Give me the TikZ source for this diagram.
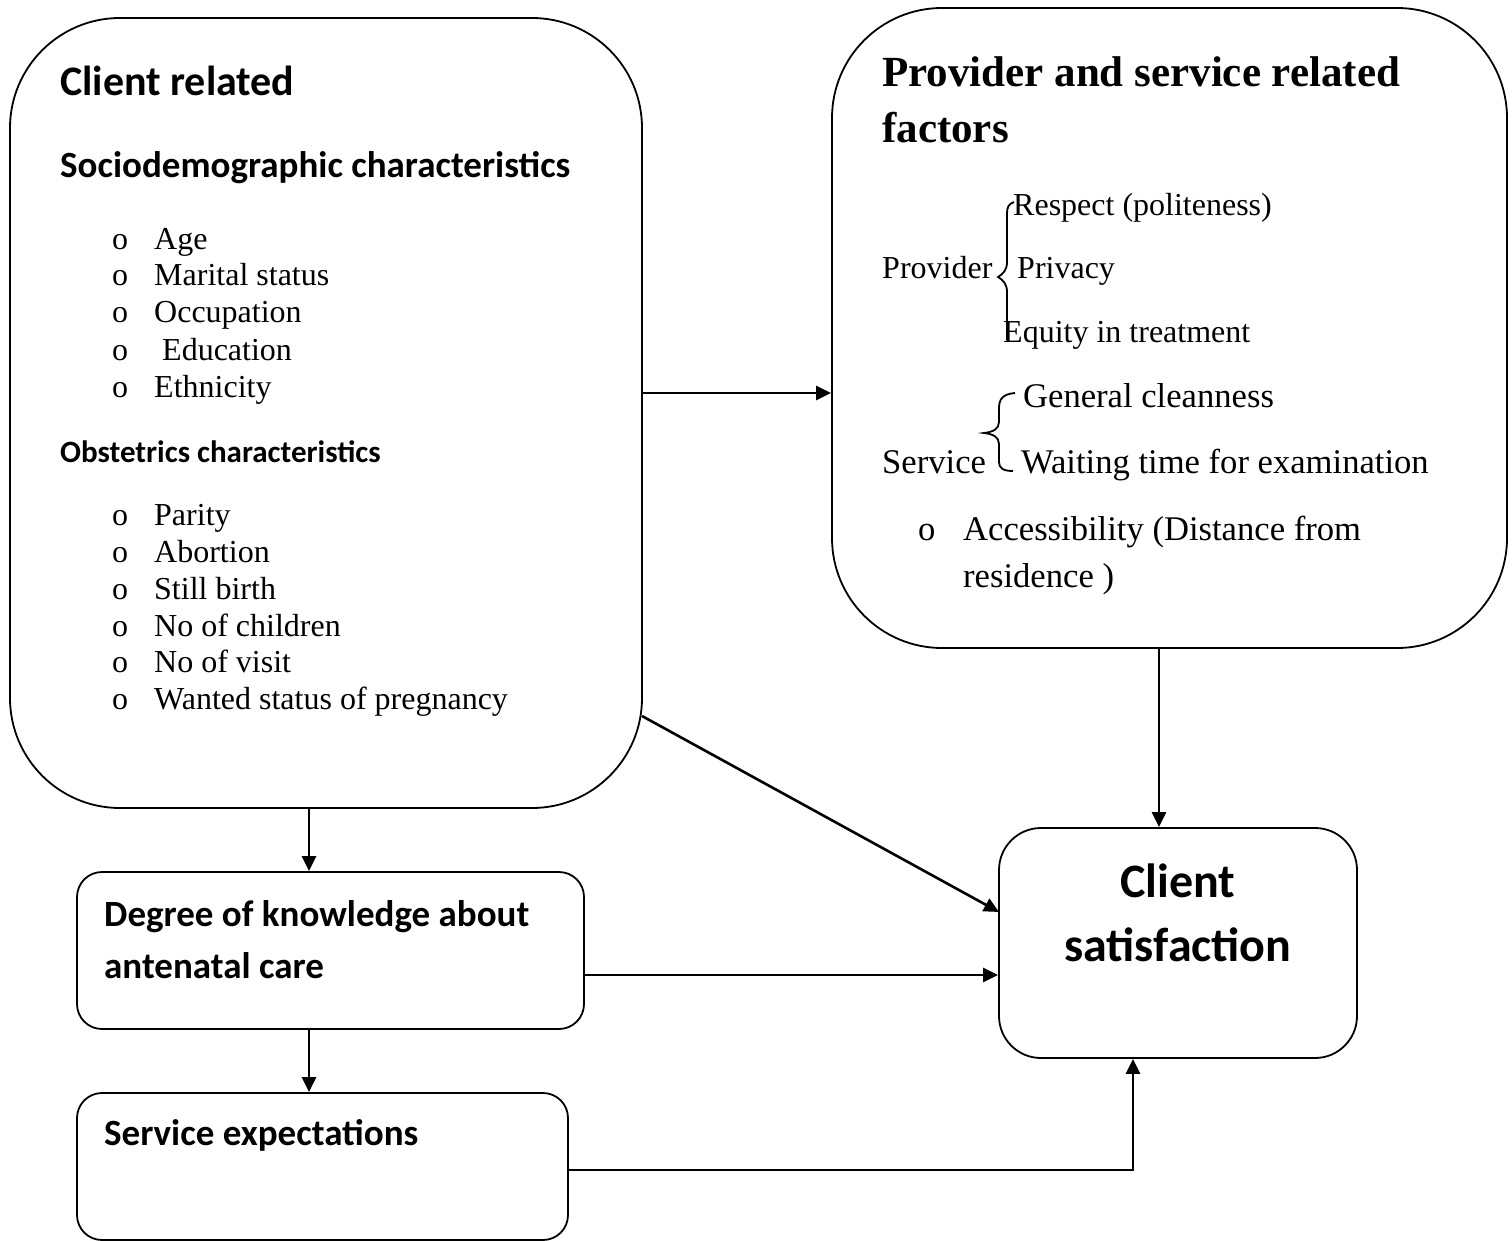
\documentclass[tikz,border=0pt]{standalone}
\usepackage{fontspec}
\setmainfont{Liberation Serif}
\newfontfamily\calib{Carlito}
\usetikzlibrary{arrows.meta}
\begin{document}
\begin{tikzpicture}[x=1pt,y=-1pt,
  bigbox/.style={draw,line width=1.8pt,rounded corners=#1,inner sep=0pt},
  conn/.style={line width=2.6pt,-{Triangle[length=15pt,width=14pt]}},
  tx/.style={anchor=base west,inner sep=0pt,font=\fontsize{32}{38}\selectfont},
  txb/.style={anchor=base west,inner sep=0pt,font=\fontsize{34.6}{40}\selectfont},
  hd/.style={anchor=base west,inner sep=0pt,font=\calib\bfseries\fontsize{#1}{#1}\selectfont},
  brc/.style={line width=1.8pt}]
\useasboundingbox (0,0) rectangle (1512,1241);
% boxes
\node[bigbox=110pt,minimum width=632pt,minimum height=790pt] (client) at (326,413) {};
\node[bigbox=110pt,minimum width=675pt,minimum height=640pt] (prov) at (1169.5,328) {};
\node[bigbox=25pt,minimum width=507pt,minimum height=157pt] (deg) at (330.5,950.5) {};
\node[bigbox=25pt,minimum width=491pt,minimum height=147pt] (serv) at (322.5,1166.5) {};
\node[bigbox=42pt,minimum width=358pt,minimum height=230pt] (sat) at (1178,943) {};
% client texts
\node[hd=42] (t1) at (60,96) {Client related};
\node[hd=37] (t2) at (60,178) {Sociodemographic characteristics};
\foreach \y/\t [count=\i] in {250/Age,286/Marital status,323/Occupation,360/{\ Education},397/Ethnicity,525/Parity,562/Abortion,599/Still birth,636/No of children,672/No of visit,709/Wanted status of pregnancy}{
  \node[tx] (b\i) at (112,\y) {o};
  \node[tx] (i\i) at (154,\y) {\t};
}
\node[hd=31] (t3) at (60,462) {Obstetrics characteristics};
% provider texts
\node[anchor=base west,inner sep=0pt,font=\bfseries\fontsize{43}{43}\selectfont] (p1) at (882,87) {Provider and service related};
\node[anchor=base west,inner sep=0pt,font=\bfseries\fontsize{43}{43}\selectfont] (p2) at (882,143) {factors};
\node[tx] (r1) at (1013,216) {Respect (politeness)};
\node[tx] (pv) at (882,279) {Provider};
\node[tx] (r2) at (1017,279) {Privacy};
\node[tx] (r3) at (1003,342) {Equity in treatment};
\node[txb] (s1) at (1023,407) {General cleanness};
\node[txb] (sv) at (882,473) {Service};
\node[txb] (s2) at (1021,473) {Waiting time for examination};
\node[txb] (ab) at (918,540) {o};
\node[txb] (a1) at (963,540) {Accessibility (Distance from};
\node[txb] (a2) at (963,587) {residence )};
% braces
\draw[brc] (1014,202) .. controls (1008,204) and (1007,208) .. (1007,214) -- (1007,262) .. controls (1007,270) and (1003,274) .. (998,277) .. controls (1003,280) and (1007,284) .. (1007,292) -- (1007,340);
\draw[brc] (1015,393) .. controls (1003,394) and (999,399) .. (999,408) -- (999,422) .. controls (999,429) and (993,432) .. (984,433) .. controls (993,434) and (999,437) .. (999,444) -- (999,462) .. controls (999,468) and (1003,471) .. (1013,471);
% other boxes texts
\node[hd=37] (d1) at (104,926) {Degree of knowledge about};
\node[hd=37] (d2) at (104,978) {antenatal care};
\node[hd=37] (e1) at (104,1145) {Service expectations};
\node[anchor=base,inner sep=0pt,font=\calib\bfseries\fontsize{48}{48}\selectfont] (c1) at (1178,897) {Client};
\node[anchor=base,inner sep=0pt,font=\calib\bfseries\fontsize{48}{48}\selectfont] (c2) at (1178,961) {satisfaction};
% connectors
\draw[conn] (client.east |- 0,393) -- (prov.west |- 0,393);
\draw[conn] (prov.south -| 1159,0) -- (sat.north -| 1159,0);
\draw[conn] (642,716) -- (999,912);
\draw[conn] (client.south -| 309,0) -- (deg.north -| 309,0);
\draw[conn] (deg.east |- 0,975) -- (sat.west |- 0,975);
\draw[conn] (deg.south -| 309,0) -- (serv.north -| 309,0);
\draw[conn] (serv.east |- 0,1170) -| (sat.south -| 1133,0);
\end{tikzpicture}
\end{document}
